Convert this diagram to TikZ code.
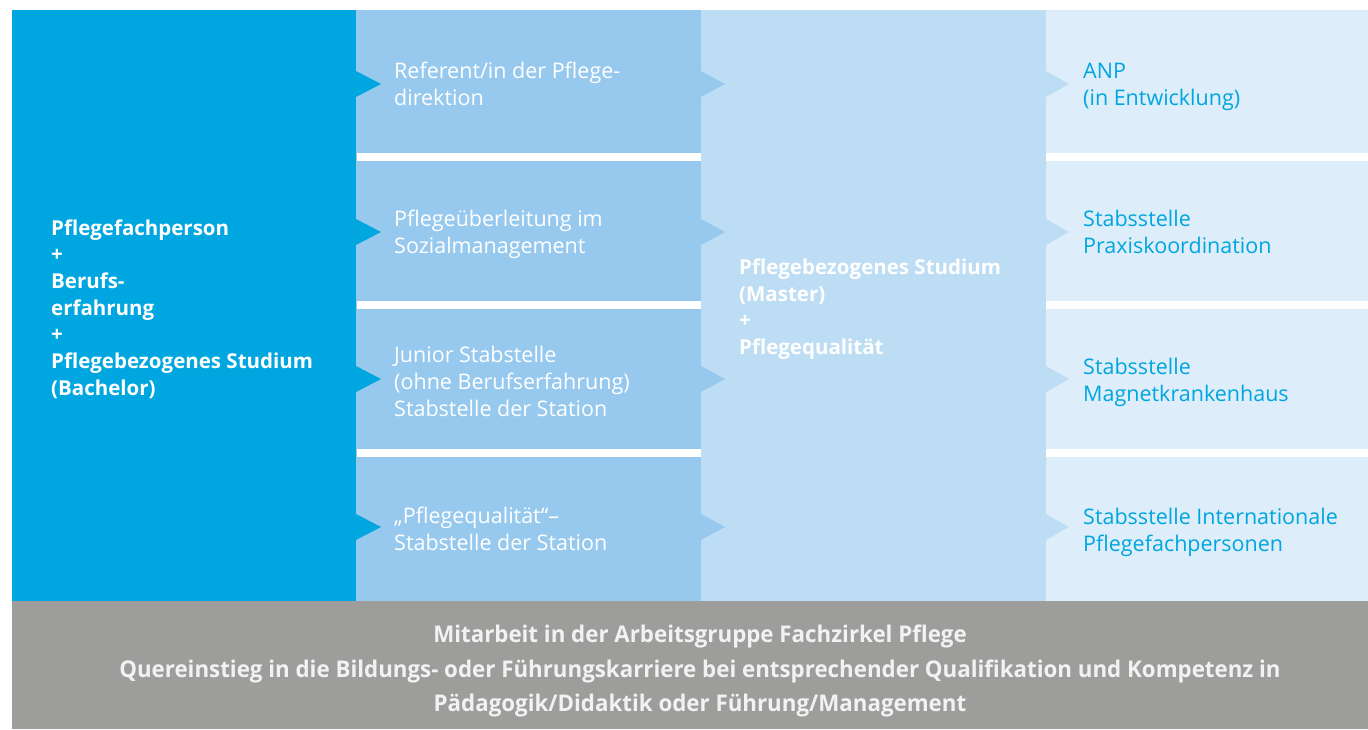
\documentclass[tikz,border=0pt]{standalone}
\usepackage{fontspec}
\setmainfont{Open Sans}
\newfontfamily\condfont[FakeStretch=0.97]{Open Sans}

\definecolor{cyanblue}{HTML}{00A6DF}
\definecolor{midblue}{HTML}{97C9EE}
\definecolor{lightblue}{HTML}{BDDDF5}
\definecolor{paleblue}{HTML}{DDEDFA}
\definecolor{bargray}{HTML}{9D9D9C}

\tikzset{
  rowtext/.style={anchor=west,align=left,inner sep=0pt,
    font=\fontsize{21.5}{27}\selectfont},
  boldtext/.style={rowtext,font=\fontsize{20.5}{26.7}\selectfont\bfseries,text=white},
  bartext/.style={align=center,inner sep=0pt,text=white!95!black,
    font=\condfont\fontsize{23}{34.5}\selectfont\bfseries}
}

\begin{document}
\begin{tikzpicture}[x=1pt,y=-1pt]
  \useasboundingbox (0,0) rectangle (1368,729);

  \fill[cyanblue] (12,10) rectangle (356,601);
  \fill[midblue] (356,10) rectangle (701,601);
  \fill[lightblue] (701,10) rectangle (1046,601);
  \fill[paleblue] (1046,10) rectangle (1368,601);
  \fill[bargray] (12,601) rectangle (1368,729);

  \foreach \y in {153,301,449} {
    \fill[white] (357,\y) rectangle (701,\y+8);
    \fill[white] (1046,\y) rectangle (1368,\y+8);
  }

  \foreach \c in {84,232,379,527} {
    \fill[cyanblue] (356,\c-13) -- (381,\c) -- (356,\c+13) -- cycle;
    \fill[midblue] (701,\c-13) -- (725,\c) -- (701,\c+13) -- cycle;
    \fill[lightblue] (1046,\c-13) -- (1069,\c) -- (1046,\c+13) -- cycle;
  }

  \node[boldtext] (start) at (51,309) {Pflegefachperson\\+\\Berufs-\\erfahrung\\+\\Pflegebezogenes Studium\\(Bachelor)};

  \node[rowtext,text=white] (referent) at (394,84) {Referent/in der Pflege-\\direktion};
  \node[rowtext,text=white] (ueberleitung) at (394,234) {Pflegeüberleitung im\\Sozialmanagement};
  \node[rowtext,text=white] (junior) at (394,381) {Junior Stabstelle\\(ohne Berufserfahrung)\\Stabstelle der Station};
  \node[rowtext,text=white] (qualitaet) at (394,529) {„Pflegequalität“–\\Stabstelle der Station};

  \node[boldtext] (master) at (739,309) {Pflegebezogenes Studium\\(Master)\\+\\Pflegequalität};

  \node[rowtext,text=cyanblue] (anp) at (1083,87) {ANP\\(in Entwicklung)};
  \node[rowtext,text=cyanblue] (praxis) at (1083,232) {Stabsstelle\\Praxiskoordination};
  \node[rowtext,text=cyanblue] (magnet) at (1083,382) {Stabsstelle\\Magnetkrankenhaus};
  \node[rowtext,text=cyanblue] (intl) at (1083,532) {Stabsstelle Internationale\\Pflegefachpersonen};

  \node[bartext] (fachzirkel) at (700,671) {Mitarbeit in der Arbeitsgruppe Fachzirkel Pflege\\Quereinstieg in die Bildungs- oder Führungskarriere bei entsprechender Qualifikation und Kompetenz in\\Pädagogik/Didaktik oder Führung/Management};
\end{tikzpicture}
\end{document}
